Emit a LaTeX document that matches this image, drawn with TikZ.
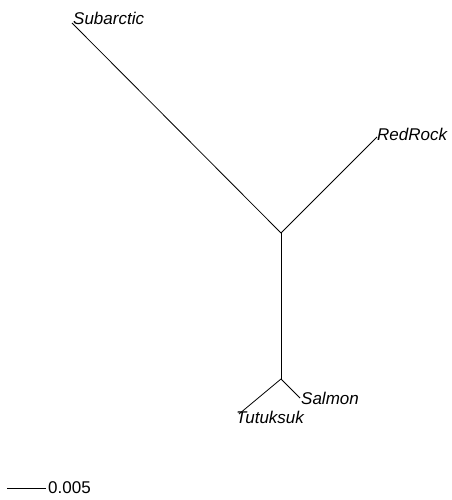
\documentclass[tikz,border=0pt]{standalone}
\usepackage{fontspec}
\setmainfont{Liberation Sans}
\begin{document}
\begin{tikzpicture}[x=1pt,y=-1pt,
  branch/.style={line width=0.8pt,black},
  tiplabel/.style={anchor=base west,inner sep=0pt,font=\fontsize{17}{20}\selectfont\itshape},
  scalelabel/.style={anchor=base west,inner sep=0pt,font=\fontsize{17}{20}\selectfont}]
\useasboundingbox (0,0) rectangle (451,500);
% internal nodes and tips of the unrooted tree
\coordinate (inA) at (281,233);
\coordinate (inB) at (281,379);
\coordinate (tSub) at (72,23);
\coordinate (tRed) at (377,137);
\coordinate (tSal) at (300,398);
\coordinate (tTut) at (239,414);
% branches
\draw[branch] (inA) -- (tSub);
\draw[branch] (inA) -- (tRed);
\draw[branch] (inA) -- (inB);
\draw[branch] (inB) -- (tSal);
\draw[branch] (inB) -- (tTut);
% tip labels
\node[tiplabel] (lSub) at (73,24.5) {Subarctic};
\node[tiplabel] (lRed) at (377,140) {RedRock};
\node[tiplabel] (lSal) at (301,404) {Salmon};
\node[tiplabel] (lTut) at (236,423) {Tutuksuk};
% scale bar
\coordinate (sbL) at (7,488);
\coordinate (sbR) at (46,488);
\draw[branch] (sbL) -- (sbR);
\node[scalelabel] (sbT) at (48,493.5) {0.005};
\end{tikzpicture}
\end{document}
